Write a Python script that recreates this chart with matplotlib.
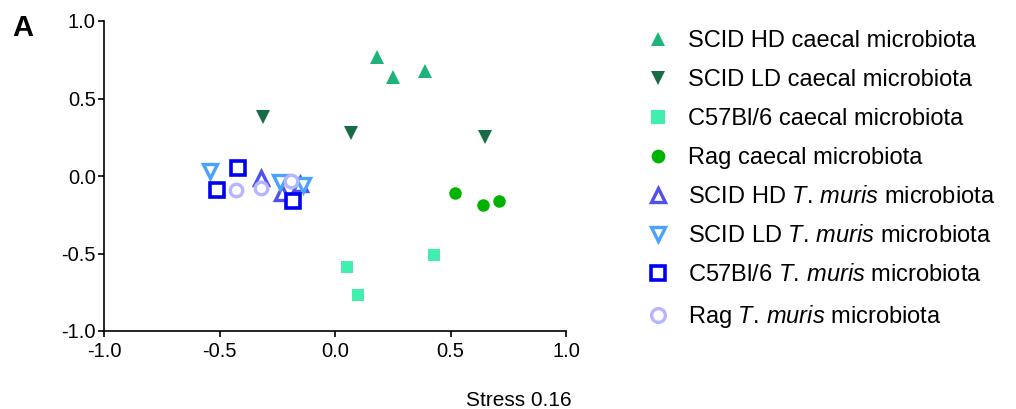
import matplotlib
matplotlib.use("Agg")
import matplotlib.pyplot as plt

plt.rcParams["font.family"] = ["Liberation Sans", "DejaVu Sans"]
plt.rcParams["mathtext.fontset"] = "custom"
plt.rcParams["mathtext.it"] = "Liberation Sans:italic"
plt.rcParams["mathtext.rm"] = "Liberation Sans"
plt.rcParams["axes.unicode_minus"] = False

# NMDS coordinates per group
scid_hd_caecal_x = [0.18, 0.25, 0.39]
scid_hd_caecal_y = [0.77, 0.64, 0.68]
scid_ld_caecal_x = [-0.31, 0.07, 0.65]
scid_ld_caecal_y = [0.38, 0.28, 0.25]
c57_caecal_x = [0.05, 0.10, 0.43]
c57_caecal_y = [-0.59, -0.77, -0.51]
rag_caecal_x = [0.52, 0.64, 0.71]
rag_caecal_y = [-0.11, -0.19, -0.16]

scid_hd_tm_x = [-0.32, -0.23, -0.15]
scid_hd_tm_y = [-0.01, -0.11, -0.05]
scid_ld_tm_x = [-0.54, -0.24, -0.14]
scid_ld_tm_y = [0.03, -0.04, -0.06]
c57_tm_x = [-0.42, -0.51, -0.18]
c57_tm_y = [0.05, -0.09, -0.16]
rag_tm_x = [-0.43, -0.32, -0.19]
rag_tm_y = [-0.09, -0.08, -0.03]

labels = [
    "SCID HD caecal microbiota",
    "SCID LD caecal microbiota",
    "C57Bl/6 caecal microbiota",
    "Rag caecal microbiota",
    r"SCID HD $\mathit{T.\,muris}$ microbiota",
    r"SCID LD $\mathit{T.\,muris}$ microbiota",
    r"C57Bl/6 $\mathit{T.\,muris}$ microbiota",
    r"Rag $\mathit{T.\,muris}$ microbiota",
]

ticks = [-1.0, -0.5, 0.0, 0.5, 1.0]
tick_labels = ["-1.0", "-0.5", "0.0", "0.5", "1.0"]

groups = [
    (scid_hd_caecal_x, scid_hd_caecal_y, dict(marker="^", color="#1db47c", ms=9.5, mew=0)),
    (scid_ld_caecal_x, scid_ld_caecal_y, dict(marker="v", color="#176b45", ms=9.5, mew=0)),
    (c57_caecal_x, c57_caecal_y, dict(marker="s", color="#40eeae", ms=9, mew=0)),
    (rag_caecal_x, rag_caecal_y, dict(marker="o", color="#00b300", ms=9, mew=0)),
    (scid_hd_tm_x, scid_hd_tm_y, dict(marker="^", color="#5050ee", mfc="white", ms=9.5, mew=2.4)),
    (scid_ld_tm_x, scid_ld_tm_y, dict(marker="v", color="#4aa2ff", mfc="white", ms=9.5, mew=2.4)),
    (c57_tm_x, c57_tm_y, dict(marker="s", color="#0000f0", mfc="white", ms=9.5, mew=2.6)),
    (rag_tm_x, rag_tm_y, dict(marker="o", color="#b6b6ff", mfc="white", ms=9, mew=2.4)),
]

fig = plt.figure(figsize=(10.16, 4.09), dpi=100)
ax = fig.add_axes([104 / 1016, 78 / 409, 462 / 1016, 310 / 409])

handles = []
for (xs, ys, style), lab in zip(groups, labels):
    (h,) = ax.plot(xs, ys, linestyle="none", label=lab, clip_on=False, **style)
    handles.append(h)

ax.set_xlim(-1.0, 1.0)
ax.set_ylim(-1.0, 1.0)
ax.set_xticks(ticks)
ax.set_xticklabels(tick_labels)
ax.set_yticks(ticks)
ax.set_yticklabels(tick_labels)
for s in ["top", "right"]:
    ax.spines[s].set_visible(False)
for s in ["left", "bottom"]:
    ax.spines[s].set_linewidth(1.2)
ax.tick_params(axis="both", direction="out", length=4, width=1.2, labelsize=14.5, colors="black")
ax.tick_params(axis="x", pad=4)
ax.tick_params(axis="y", pad=2)

fig.legend(handles, labels, loc="upper left", bbox_to_anchor=(646 / 1016, 1 - 30 / 409),
           frameon=False, fontsize=17, handlelength=1.0, handletextpad=0.8,
           labelspacing=0.72, borderpad=0, borderaxespad=0, markerscale=1.1)

fig.text(572 / 1016, 1 - 400 / 409, "Stress 0.16", ha="right", va="center", fontsize=15)
fig.text(12 / 1016, 1 - 28 / 409, "A", ha="left", va="center", fontsize=21, fontweight="bold")

fig.savefig("out.png", dpi=100)
